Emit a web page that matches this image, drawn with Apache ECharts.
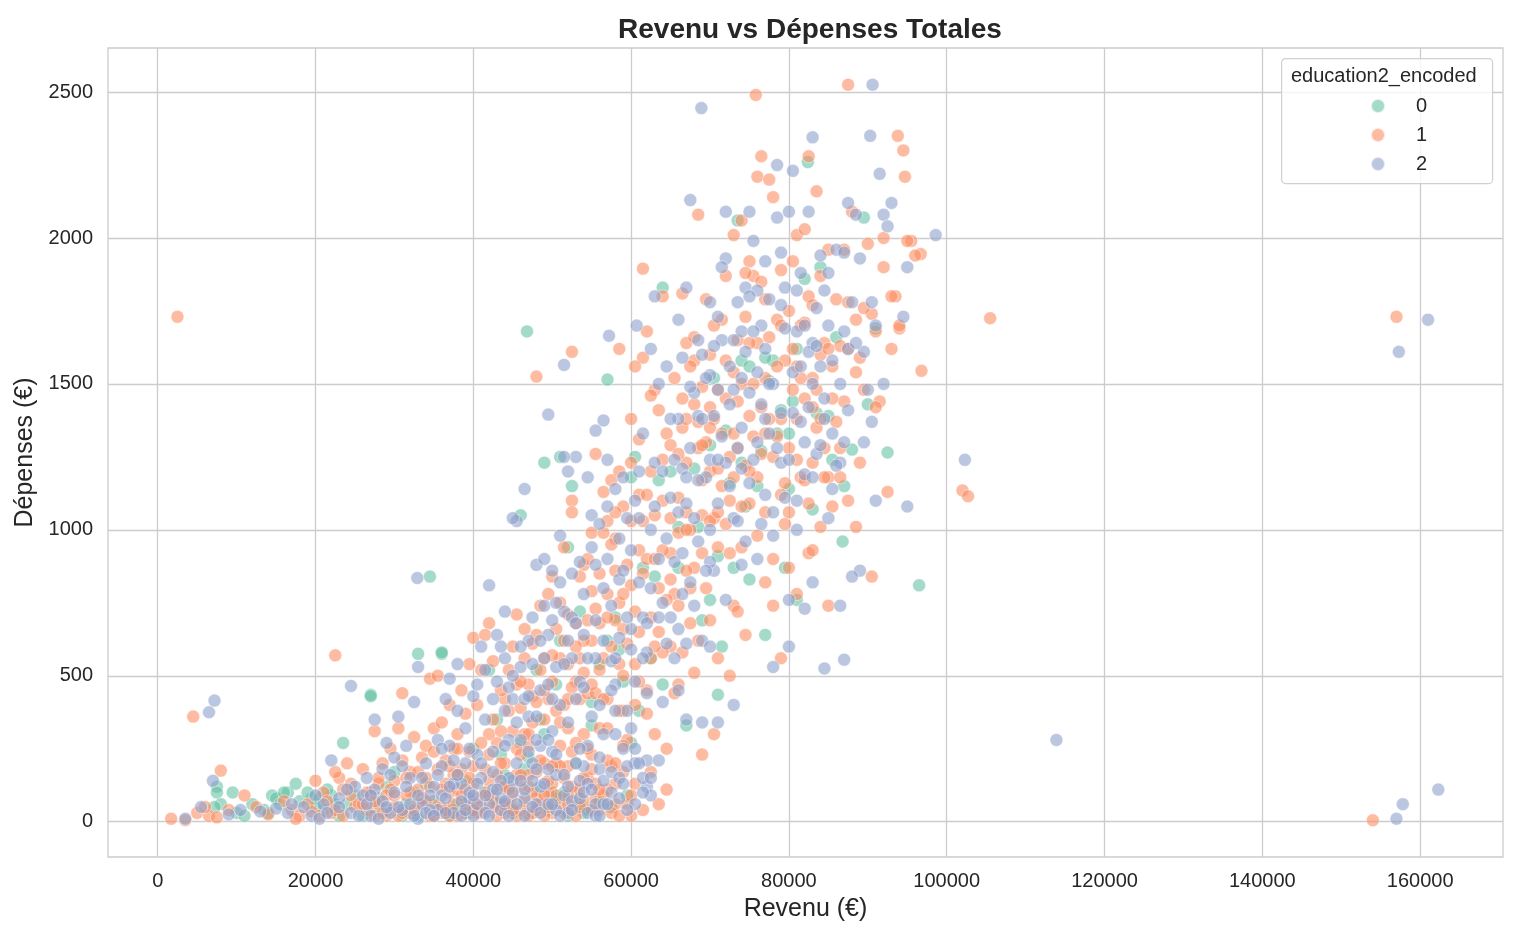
<!DOCTYPE html>
<html>
<head>
<meta charset="utf-8">
<script src="https://cdn.jsdelivr.net/npm/echarts@6/dist/echarts.min.js"></script>
<style>
  html, body { margin: 0; padding: 0; background: #fff; }
  #chart { width: 1517px; height: 937px; }
</style>
</head>
<body>
<div id="chart"></div>
<script>
// axes
const xTicks = [0, 20000, 40000, 60000, 80000, 100000, 120000, 140000, 160000];
const yTicks = [0, 500, 1000, 1500, 2000, 2500];
const groups = ['0', '1', '2'];
const groupColors = ['#66c2a5', '#fc8d62', '#8da0cb'];

// education2_encoded = 0  [revenu, dépenses]
const edu0 = [
  [34500,840],[46800,1680],[57000,1515],[82400,2260],[96500,810],[92500,1265],[49000,1230],[27000,435],
  [23500,270],[36000,575],[33000,575],[88000,1275],[86800,960],[71000,435],
  [7500,120],[7500,100],[9500,100],[8000,60],[7200,50],[10000,30],[12000,60],[13500,40],[14500,90],
  [15000,80],[15500,60],[16500,100],[17500,130],[14000,30],[11000,20],
  [16000,100],[18000,70],[19500,80],[20500,80],[22000,90],[23000,20],[24000,60],[21000,40],[20000,50],
  [27000,430],[26000,20],[28000,80],[30000,170],[31500,60],[33000,20],[34000,130],[32500,100],[29000,40],
  [36000,580],[38000,60],[40000,250],[42000,520],[44000,160],[43000,350],[37000,20],[41500,100],[39000,140],[45000,30],
  [46000,1050],[48000,520],[50000,100],[51000,620],[52000,940],[52500,1150],[53500,720],[54000,30],[55000,410],
  [47000,30],[49000,300],[53000,200],[51000,1250],
  [60500,1250],[61500,870],[62500,560],[63500,1170],[64000,1830],[65000,1200],[58000,700],[60000,1180],
  [64000,470],[56000,540],[59000,480],
  [66000,1010],[67000,330],[69000,690],[70000,1290],[71000,910],[72000,1340],[73000,870],[74000,1580],
  [75000,1560],[68000,1210],[70500,1520],[71500,600],[73500,2060],[75000,830],[74500,1080],
  [76000,1150],[77000,640],[78000,1580],[79000,1410],[80000,1330],[80500,1440],[81000,760],[82000,1860],
  [83000,1070],[84000,1900],[85000,1390],[79500,870],[77500,1510],
  [87000,1150],[89500,2070],[91000,1690],[85500,1240],[90000,1430],
  [40000,60],[45000,50],[46500,180],[48000,110],[50500,80],[52000,20],[54500,40],[56000,70],[59500,90],[47000,220],
  [19000,100],[21500,110],[22500,60],[25000,90],[27500,50],[29000,120],[31000,20],[35000,70],[37500,40],[39500,30],
  [42500,80],[44500,120],[49500,40],[51500,100],[53500,60],[57500,50],[60000,270],[43500,230],[46000,270],[48500,350],
  [50500,470],[55000,330],[57000,620],[58500,590],[61000,380],[63000,840],[66000,870],[68500,1010],[72500,1160],
  [76500,1270],[78500,1330],[81000,1620],[83500,1400],[86000,1660],[70000,760],[74000,1230],[80000,1140],[77000,1590]
];

// education2_encoded = 1
const edu1 = [
  [2500,1730],[4500,360],[1700,10],[3500,5],[5000,30],[8000,175],[157000,1730],[154000,5],[105500,1725],
  [102000,1135],[102700,1115],[87500,2525],[75800,2490],[93800,2350],[94500,2300],[94700,2210],[82500,2280],
  [76500,2280],[22500,570],[48000,1525],[52500,1610],[58500,1620],[61500,1895],[96800,1545],[96700,1945],[95500,1990],
  [6500,20],[7500,15],[9000,40],[11000,90],[12500,50],[14000,25],[6000,50],
  [16000,70],[17000,40],[18000,20],[19000,60],[20000,140],[21000,100],[22000,30],[23000,150],[24000,200],
  [24500,90],[25000,50],[17500,10],[19500,35],[22500,170],[23500,110],
  [26000,180],[27000,100],[27500,310],[28000,60],[28500,200],[29000,20],[30000,140],[30500,320],[31000,440],
  [31500,90],[32000,30],[32500,290],[33000,60],[33500,220],[34000,150],[34500,490],[35000,320],[26500,40],
  [28000,130],[29500,250],[31000,210],[33000,110],[34500,20],[27500,20],[30000,50],[32000,170],[34000,260],
  [35500,500],[36000,340],[36500,210],[37000,100],[37500,160],[38000,300],[38500,450],[39000,60],[39500,240],
  [40000,630],[40500,400],[41000,30],[41500,180],[42000,680],[42500,550],[43000,270],[43500,120],[44000,420],
  [44500,60],[45000,310],[36000,30],[37000,400],[38000,20],[39000,370],[40000,130],[41000,520],[42000,300],
  [43000,20],[44000,200],[45000,600],[37500,250],[40500,80],[43500,450],[36500,130],[41500,640],[42500,90],
  [38500,180],[44500,380],[39500,540],[35000,20],
  [45500,710],[46000,120],[46500,560],[47000,260],[47500,430],[48000,640],[48500,60],[49000,350],[49500,780],
  [50000,480],[50500,200],[51000,560],[51500,940],[52000,320],[52500,1100],[53000,680],[53500,420],[54000,880],
  [54500,150],[55000,620],[46000,390],[47000,20],[48000,170],[49000,560],[50000,30],[51000,260],[52000,710],
  [53000,100],[54000,510],[55000,990],[45500,250],[47500,610],[49500,100],[50500,660],[51500,400],[52500,240],
  [53500,840],[54500,440],[46500,300],[48500,520],[50000,840],[52000,540],[54000,300],[55000,180],[47000,470],
  [49000,200],[51000,750],[53000,480],[55000,790],[52500,1060],
  [55500,1260],[56000,680],[56500,990],[57000,420],[57500,1170],[58000,860],[58500,540],[59000,1080],[59500,280],
  [60000,1380],[60500,720],[61000,930],[61500,1590],[62000,450],[62500,1200],[63000,1480],[63500,800],[64000,1100],
  [64500,1330],[65000,600],[56000,320],[57000,780],[58000,130],[59000,660],[60000,20],[61000,1310],[62000,1680],
  [63000,300],[64000,1800],[65000,920],[55500,440],[56500,1130],[57500,600],[58500,1200],[59500,880],[60500,400],
  [61500,1030],[62500,700],[63500,1410],[64500,250],[56000,850],[58000,970],[60000,1230],[62000,900],[64000,580],
  [57000,1030],[59000,380],[61000,650],[63000,1050],[65000,1290],[64500,110],[62500,1460],[60500,1560],[58500,750],[56500,560],
  [65500,1520],[66000,990],[66500,1810],[67000,1230],[67500,680],[68000,1430],[68500,2080],[69000,1170],[69500,800],
  [70000,1600],[70500,1380],[71000,940],[71500,1720],[72000,1870],[72500,1100],[73000,2010],[73500,1280],[74000,1500],
  [74500,1730],[75000,1090],[66000,470],[67000,1640],[68000,870],[69000,1490],[70000,1200],[71000,560],[72000,1450],
  [73000,740],[74000,940],[75000,1920],[65500,780],[66500,1350],[67500,1000],[68500,1280],[69500,1790],[70500,1040],
  [71500,1330],[72500,920],[73500,1650],[74500,1220],[66000,1110],[68000,1580],[70000,1350],[72000,1580],[74000,2060],
  [67000,860],[69000,1050],[71000,1480],[73000,1180],[75000,1390],[70500,300],[69000,230],[72500,500],[73500,720],
  [68000,1660],[74500,640],
  [75500,1870],[76000,2210],[76500,1420],[77000,1060],[77500,1660],[78000,2140],[78500,1320],[79000,1890],[79500,1580],
  [80000,870],[80500,1480],[81000,2010],[81500,1180],[82000,1710],[82500,1090],[83000,1420],[83500,2160],[84000,1600],
  [84500,1280],[85000,1960],[76000,1180],[77000,1790],[78000,900],[79000,1380],[80000,1750],[81000,1240],[82000,2030],
  [83000,1520],[84000,1870],[85000,1180],[75500,1500],[76500,1260],[77500,2200],[78500,1720],[79500,1160],[80500,1920],
  [81500,1520],[82500,920],[83500,1350],[84500,1640],[77000,820],[78000,740],[79000,560],[81000,780],[83000,930],
  [85000,740],[76000,1640],[80000,1280],[82000,1450],[84000,1010],
  [85500,1560],[86000,1370],[86500,1280],[87000,1440],[87500,1620],[88000,2090],[88500,1720],[89000,1230],[89500,1480],
  [90000,1980],[90500,1740],[91000,1680],[91500,1440],[92000,1900],[92500,1130],[93000,1620],[93500,1800],[94000,1690],
  [95000,1990],[96000,1940],[85500,1080],[86500,1630],[87500,1100],[89000,1590],[90500,840],[91000,1420],[92000,2000],
  [93000,1800],[94000,1700],[87000,1960],[86000,1790],[88500,1010],
  [35000,60],[36000,50],[37000,20],[38000,110],[39000,30],[40000,70],[41000,50],[42000,140],[43000,60],[44000,30],
  [45000,90],[46000,40],[47000,160],[48000,80],[49000,20],[50000,130],[51000,60],[52000,190],[53000,20],[54000,70],
  [55000,230],[56000,40],[57000,110],[58000,60],[59000,170],[45500,20],[47500,100],[49500,50],[51500,150],[53500,110],
  [55500,80],[57500,30],[52000,90],[44000,120],[42000,230],[40000,190],[38000,250],[46000,230],
  [20500,20],[21500,70],[22500,40],[23500,20],[24500,130],[25500,60],[26500,100],[27500,70],[28500,30],[29500,110],
  [30500,20],[31500,150],[32500,40],[33500,80],[34500,120],[35500,180],[36500,40],[37500,60],[38500,90],[39500,150],
  [40500,30],[41500,100],[42500,50],[43500,200],[44500,110],[45500,160],[46500,70],[47500,30],[48500,210],[49500,140],
  [50500,90],[51500,30],[52500,120],[53500,50],[54500,250],[55500,130],[56500,90],[57500,190],[58500,20],[59500,60],
  [60500,130],[61500,40],[62500,170],[63500,60],[29000,90],[31000,30],[33000,170],[35000,240],[37000,190],[39000,110],
  [41000,270],[43000,160],[45000,40],[47000,120],[49000,90],[51000,190],[53000,270],[55000,40],[57000,210],[59000,260],
  [42500,350],[43500,310],[44500,520],[45500,470],[46500,660],[47500,340],[48500,740],[49500,420],[50500,380],[51500,620],
  [52500,460],[53500,560],[54500,690],[55500,730],[56500,420],[57500,950],[58500,380],[59500,610],[60500,540],[61500,850],
  [62500,560],[63500,650],[64500,760],[65500,440],[66500,580],[67500,800],[68500,620],[46000,480],[48000,410],[50000,570],
  [52000,420],[54000,620],[56000,520],[58000,690],[60000,810],[62000,370],[64000,930],[66000,740],[68000,510],[70000,690],
  [57000,320],[59000,500],[61000,480],[63000,600],[65000,830],[67000,1060],
  [66500,1450],[67500,1560],[68500,1370],[69500,1300],[70500,1700],[71500,1150],[72500,1250],[73500,1440],[74500,1880],
  [75500,1320],[76500,1850],[77500,1380],[78500,1560],[79500,1020],[80500,1620],[81500,1700],[82500,1800],[83500,1480],
  [84500,1180],[85500,1450],[86500,1180],[87500,1780],[88500,1540],[89500,1760],[67000,1000],[69000,1290],[71000,1210],
  [73000,1540],[75000,1640],[77000,1520],[79000,1120],[81000,1380],[83000,1230],[85000,1620],[70000,1030],[72000,1020],
  [74000,1080],[76000,980],[78000,1250],[80000,1060],[82000,1170],[84000,1380],
  [26000,60],[28000,150],[30000,90],[32000,100],[34000,70],[36000,110],[38000,160],[40000,40],[42000,90],[44000,60],
  [46000,160],[48000,40],[50000,190],[52000,60],[54000,150],[56000,110],[58000,200],[60000,90],
  [47000,300],[49000,450],[51000,340],[53000,600],[55000,470],[57000,700],[59000,780],[61000,1120],[63000,900],[65000,1040],
  [67000,1380],[69000,920],[71000,1060],[73000,1330],[75000,1200],[77000,1330],[79000,1700],[81000,1560],[83000,1770],
  [54500,900],[58000,1060],[62000,1120],[66000,1260],[70000,1420],[60000,1030],[64000,1240]
];

// education2_encoded = 2
const edu2 = [
  [157300,1610],[161000,1720],[113900,280],[157000,10],[157800,60],[162300,110],[6500,375],[7200,415],[3500,10],
  [68900,2445],[90600,2525],[90300,2350],[83000,2345],[98600,2010],[102300,1240],[95000,1080],[32900,835],[24500,465],
  [49500,1395],[51500,1565],[56500,1375],[57200,1665],[60700,1700],[84500,525],[87000,555],
  [9000,25],[10500,40],[13000,35],[15000,45],[5500,50],[7000,140],
  [16500,30],[18500,50],[19500,20],[21000,60],[22000,210],[23000,80],[24500,30],[20500,10],[17000,60],[25000,120],
  [26000,90],[27000,20],[27500,350],[28500,180],[29000,270],[30000,100],[30500,360],[31000,40],[32000,150],[32500,410],
  [33000,530],[33500,60],[34000,200],[35000,120],[26500,150],[29500,30],[31500,260],[34500,90],[28000,10],[33000,10],
  [35500,280],[36000,190],[36500,420],[37000,260],[37500,30],[38000,540],[38500,130],[39000,320],[39500,80],[40000,430],
  [40500,230],[41000,600],[41500,350],[42000,810],[42500,170],[43000,480],[43500,40],[44000,720],[44500,280],[45000,140],
  [36000,90],[38000,380],[40000,20],[42000,60],[44000,560],[41000,150],[43000,640],[39000,200],[37000,490],[45000,420],
  [45500,1030],[46000,530],[46500,1140],[47000,360],[47500,200],[48000,880],[48500,450],[49000,900],[49500,640],[50000,310],
  [50500,160],[51000,980],[51500,720],[52000,1200],[52500,560],[53000,420],[53500,890],[54000,640],[54500,260],[55000,1050],
  [45000,1040],[46000,280],[47000,620],[48000,60],[49000,740],[50000,860],[51000,400],[52000,30],[53000,1250],[54000,780],
  [55000,360],[46500,80],[48500,260],[50500,530],[52500,850],[54500,1180],[47500,700],[49500,470],[51500,1250],[53500,250],
  [55500,880],[50000,690],[52000,340],
  [55500,560],[56000,1020],[56500,300],[57000,1240],[57500,740],[58000,470],[58500,970],[59000,1180],[59500,380],[60000,660],
  [60500,1100],[61000,820],[61500,1330],[62000,580],[62500,1000],[63000,1230],[63500,1500],[64000,750],[64500,1560],[65000,1110],
  [56000,180],[57000,900],[58000,1140],[59000,250],[60000,930],[61000,1040],[62000,120],[63000,1800],[64000,1200],[65000,700],
  [55500,1340],[57500,450],[59500,1040],[61500,700],[63500,900],[62500,1620],[60500,200],[58500,630],[64500,970],[56500,800],
  [65500,1240],[66000,1380],[66500,780],[67000,1830],[67500,2130],[68000,1040],[68500,1650],[69000,620],[69500,1180],[70000,1530],
  [70500,860],[71000,1730],[71500,1320],[72000,2090],[72500,1560],[73000,1040],[73500,1780],[74000,1210],[74500,960],[75000,1470],
  [66000,1060],[67000,610],[68000,1470],[70000,890],[71000,1090],[72000,1930],[73000,400],[74000,1680],[75000,2090],
  [65500,890],[66500,1590],[67500,1280],[68500,1170],[69500,860],[70500,1390],[71500,1650],[72500,1150],[73500,1030],[74500,1610],
  [67000,350],[69000,340],[71000,340],[66000,1720],[70000,1240],[72000,760],[74000,1350],
  [75500,1240],[76000,1540],[76500,1020],[77000,1920],[77500,1330],[78000,1500],[78500,2070],[79000,1770],[79500,1110],[80000,2090],
  [80500,1400],[81000,1680],[81500,1880],[82000,1190],[82500,2090],[83000,1640],[83500,1260],[84000,1940],[84500,1450],[85000,1700],
  [76000,900],[77000,1120],[78000,980],[79000,1230],[80000,600],[81000,1000],[82000,730],[83000,820],[84000,1560],[85000,1040],
  [75500,1990],[76500,1700],[77500,1500],[78500,2250],[79500,1830],[80500,2230],[81500,1370],[82500,1610],[83500,1760],[84500,1380],
  [78000,530],[80000,760],[82000,1300],
  [85500,1330],[86000,1960],[86500,1230],[87000,1950],[87500,1620],[88000,1780],[88500,2080],[89000,860],[89500,1610],[90000,1480],
  [90500,1780],[91000,1700],[91500,2220],[92000,2080],[92500,2040],[93000,2120],[94500,1730],[95000,1900],[85500,1140],[87000,1300],
  [88000,840],[89000,1930],[91000,1100],[92000,1500],[86500,740],[87500,2120],[90500,1370],[86000,1220],
  [35500,40],[36500,80],[37500,130],[38500,20],[39500,100],[40500,60],[41500,30],[42500,110],[43500,80],[44500,150],
  [45500,60],[46500,20],[47500,50],[48500,120],[49500,180],[50500,40],[51500,90],[52500,70],[53500,140],[54500,30],
  [55500,60],[56500,140],[57500,100],[58500,80],[59500,190],[60500,60],[61500,150],[62500,90],[44000,70],[48000,280],
  [50000,240],[54000,190],[56000,220],[58000,300],[60000,320],[62000,210],
  [20000,90],[21500,30],[23000,50],[24000,110],[25500,20],[26500,60],[27500,110],[28500,70],[29500,160],[30500,50],
  [31500,120],[32500,20],[33500,150],[34500,40],[35500,160],[36500,30],[37500,210],[38500,70],[39500,250],[40500,130],
  [41500,90],[42500,240],[43500,140],[44500,20],[45500,200],[46500,110],[47500,140],[48500,30],[49500,60],[50500,230],
  [51500,160],[52500,40],[53500,80],[54500,130],[55500,20],[56500,60],[57500,170],[58500,150],[59500,40],[60500,250],
  [61500,100],[62500,150],[63500,210],[30000,220],[32000,60],[34000,30],[36000,250],[38000,160],[40000,90],[42000,20],
  [44000,260],[46000,140],[48000,180],[50000,60],[52000,120],[54000,100],[56000,20],
  [40500,470],[41500,520],[42500,420],[43500,600],[44500,460],[45500,340],[46500,420],[47500,540],[48500,620],[49500,280],
  [50500,750],[51500,540],[52500,700],[53500,480],[54500,560],[55500,690],[56500,620],[57500,550],[58500,830],[59500,700],
  [60500,480],[61500,560],[62500,800],[63500,700],[64500,610],[65500,560],[66500,920],[67500,820],[68500,960],[44000,380],
  [46000,600],[48000,360],[50000,420],[52000,620],[54000,460],[56000,400],[58000,560],[60000,590],[62000,680],[64000,410],
  [66000,450],[68000,740],[70000,1000],
  [66500,1210],[67500,1490],[68500,1390],[69500,1520],[70500,1630],[71500,1900],[72500,1430],[73500,1280],[74500,1830],
  [75500,1680],[76500,1430],[77500,1790],[78500,1280],[79500,1690],[80500,1540],[81500,1560],[82500,1420],[83500,1630],
  [84500,1820],[85500,1580],[86500,1500],[87500,1410],[88500,1640],[89500,1300],[67000,1090],[69000,1380],[71000,1480],
  [73000,1650],[75000,1160],[77000,1380],[79000,1950],[81000,1100],[83000,1500],[85000,1880],[87000,1680],[70000,1780],
  [72000,1230],[74000,1520],[76000,1820],[78000,1060],[80000,1240],[82000,1700],[84000,1290],
  [27000,90],[29000,50],[31000,190],[33000,90],[35000,20],[37000,120],[39000,40],[41000,200],[43000,110],[45000,100],
  [47000,240],[49000,130],[51000,20],[53000,200],[55000,110],[57000,60],[59000,130],[61000,200],
  [45000,500],[47000,430],[49000,560],[51000,820],[53000,680],[55000,940],[57000,1080],[59000,860],[61000,1200],[63000,1080],
  [65000,1380],[67000,1180],[69000,1600],[71000,1240],[73000,1480],[75000,1800],[77000,1620],[79000,1400],[81000,1820],
  [83000,1180],[58000,380],[62000,440],[66000,660],[70000,600],[74000,880],[76000,1300]
];

const chart = echarts.init(document.getElementById('chart'));
const font = "'Liberation Sans', Arial, sans-serif";
const dataSets = [edu0, edu1, edu2];

const option = {
  backgroundColor: '#ffffff',
  animation: false,
  title: {
    text: 'Revenu vs Dépenses Totales',
    left: 805,
    textAlign: 'center',
    top: 11,
    textStyle: { fontFamily: font, fontSize: 28, fontWeight: 'bold', color: '#262626' }
  },
  grid: {
    left: 108, right: 14, top: 48, bottom: 80,
    show: true, borderColor: '#cccccc', borderWidth: 1.3, backgroundColor: '#ffffff'
  },
  legend: {
    data: groups,
    orient: 'vertical',
    left: 1365,
    top: 91,
    z: 20,
    itemGap: 9,
    itemWidth: 14,
    itemHeight: 14,
    icon: 'circle',
    textStyle: { fontFamily: font, fontSize: 20, color: '#262626', padding: [0, 0, 0, 26] }
  },
  graphic: [
    {
      type: 'rect', left: 1281, top: 58, z: 10, silent: true,
      shape: { width: 211, height: 125, r: 4 },
      style: { fill: 'rgba(255,255,255,0.8)', stroke: '#d0d0d0', lineWidth: 1.2 }
    },
    {
      type: 'text', left: 1291, top: 66, z: 11, silent: true,
      style: { text: 'education2_encoded', font: "20px 'Liberation Sans', Arial, sans-serif", fill: '#262626' }
    }
  ],
  xAxis: {
    type: 'value',
    min: -6300,
    max: 170500,
    name: 'Revenu (€)',
    nameLocation: 'middle',
    nameGap: 40,
    nameTextStyle: { fontFamily: font, fontSize: 25, color: '#262626' },
    axisLine: { show: false },
    axisTick: { show: false, customValues: xTicks },
    axisLabel: {
      customValues: xTicks, margin: 14, fontFamily: font, fontSize: 20, color: '#262626',
      formatter: v => String(v)
    },
    splitLine: { show: true, lineStyle: { color: '#cccccc', width: 1.3 } }
  },
  yAxis: {
    type: 'value',
    min: -121,
    max: 2651,
    name: 'Dépenses (€)',
    nameLocation: 'middle',
    nameGap: 70,
    nameTextStyle: { fontFamily: font, fontSize: 25, color: '#262626' },
    axisLine: { show: false },
    axisTick: { show: false, customValues: yTicks },
    axisLabel: {
      customValues: yTicks, margin: 15, fontFamily: font, fontSize: 20, color: '#262626',
      formatter: v => String(v)
    },
    splitLine: { show: true, lineStyle: { color: '#cccccc', width: 1.3 } }
  },
  series: groups.map((g, i) => ({
    name: g,
    type: 'scatter',
    data: dataSets[i],
    symbolSize: 13,
    itemStyle: {
      color: groupColors[i],
      opacity: 0.6,
      borderColor: '#ffffff',
      borderWidth: 0.8
    }
  }))
};

chart.setOption(option);
</script>
</body>
</html>
